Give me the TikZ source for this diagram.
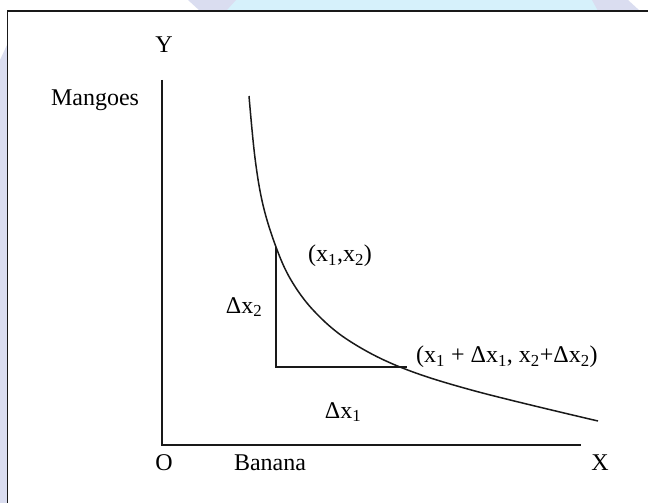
\documentclass[tikz,border=0pt]{standalone}
\usepackage{fontspec}
\setmainfont{Liberation Serif}
\begin{document}
\begin{tikzpicture}[x=1pt,y=-1pt,
  lbl/.style={inner sep=0pt,font=\fontsize{24}{28}\selectfont},
  ln/.style={line width=1.5pt,black!90}]
\useasboundingbox (0,0) rectangle (648,503);
\fill[white] (0,0) rectangle (648,503);
% watermark background
\definecolor{wmlav}{HTML}{DADDF0}
\definecolor{wmblue}{HTML}{D6F1FB}
\fill[wmlav] (0,60) -- (7,45) -- (7,503) -- (0,503) -- cycle;
\fill[wmblue] (225,0) rectangle (598,11);
\fill[wmlav] (188,0) -- (236,0) -- (226,11) -- (200,11) -- cycle;
\fill[wmlav] (592,0) -- (628,0) -- (640,11) -- (598,11) -- cycle;
% frame
\draw[line width=1.4pt,black!90] (7.6,503) -- (7.6,11) -- (648,11);
% axes
\coordinate (O) at (162,445);
\coordinate (ytop) at (162,80);
\coordinate (xend) at (581,445);
\draw[ln] (ytop) -- (O) -- (xend);
% curve
\coordinate (P1) at (276,247);
\coordinate (C) at (276,367);
\coordinate (P2) at (407,367);
\draw[ln] plot[smooth,tension=0.6] coordinates {(249,96) (255,158) (263,205) (276,247) (291,280) (314,311) (348,340) (400,367) (475,391) (598,421)};
\draw[ln] (P1) -- (C) -- (P2);
% labels
\node[lbl] (ylab) at (164,45) {Y};
\node[lbl] (mango) at (95,100) {Mangoes};
\node[lbl] (olab) at (164,463) {O};
\node[lbl] (banana) at (270,463) {Banana};
\node[lbl] (xlab) at (600,463) {X};
\node[lbl] (pt1) at (340,256) {(x\textsubscript{1},x\textsubscript{2})};
\node[lbl] (dx2) at (244,307) {Δx\textsubscript{2}};
\node[lbl,anchor=west] (pt2) at (416,357) {(x\textsubscript{1} + Δx\textsubscript{1}, x\textsubscript{2}+Δx\textsubscript{2})};
\node[lbl] (dx1) at (343,412) {Δx\textsubscript{1}};
\end{tikzpicture}
\end{document}
